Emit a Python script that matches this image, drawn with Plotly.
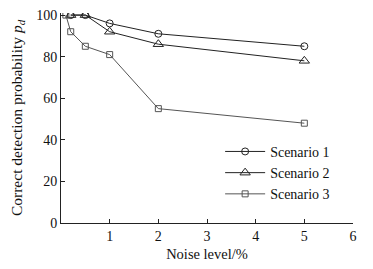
import plotly.graph_objects as go

x12 = [0.2, 0.5, 1, 2, 5]
s1 = [100, 100, 96, 91, 85]
s2 = [100, 100, 92, 86, 78]
x3 = [0.1, 0.2, 0.5, 1, 2, 5]
s3 = [100, 92, 85, 81, 55, 48]
xticks = [1, 2, 3, 4, 5, 6]
yticks = [0, 20, 40, 60, 80, 100]

fig = go.Figure()
fig.add_trace(go.Scatter(x=x12, y=s1, name="Scenario 1", mode="lines+markers",
                         line=dict(color="#222", width=1),
                         marker=dict(symbol="circle-open", size=7, color="#222", line=dict(width=1))))
fig.add_trace(go.Scatter(x=x12, y=s2, name="Scenario 2", mode="lines+markers",
                         line=dict(color="#222", width=1),
                         marker=dict(symbol="triangle-up-open", size=9, color="#222", line=dict(width=1))))
fig.add_trace(go.Scatter(x=x3, y=s3, name="Scenario 3", mode="lines+markers",
                         line=dict(color="#555", width=1),
                         marker=dict(symbol="square-open", size=6, color="#555", line=dict(width=1))))

serif = "Liberation Serif"
fig.update_layout(
    width=365, height=261,
    margin=dict(l=53, r=20, t=5, b=46),
    plot_bgcolor="white", paper_bgcolor="white",
    font=dict(family=serif, size=14, color="#111"),
    showlegend=True,
    legend=dict(x=0.545, y=0.415, xanchor="left", yanchor="top",
                bgcolor="rgba(0,0,0,0)", font=dict(family=serif, size=14, color="#111"),
                tracegroupgap=0, itemwidth=40),
    xaxis=dict(range=[0, 6], tickvals=xticks, ticks="inside", ticklen=4, tickcolor="#222",
               showline=True, linecolor="#222", linewidth=1, showgrid=False, zeroline=False,
               automargin=False, ticklabeloverflow="allow",
               tickfont=dict(family=serif, size=14, color="#111"),
               title=dict(text="Noise level/%", font=dict(family=serif, size=14.5, color="#111"), standoff=6)),
    yaxis=dict(range=[0, 101], tickvals=yticks, ticks="inside", ticklen=4, tickcolor="#222",
               showline=True, linecolor="#222", linewidth=1, showgrid=False, zeroline=False,
               automargin=False, ticklabeloverflow="allow",
               tickfont=dict(family=serif, size=14, color="#111"),
               title=dict(text="Correct detection probability <i>p</i><sub><i>d</i></sub>",
                          font=dict(family=serif, size=15.5, color="#111"), standoff=15)),
)
fig.write_html("out.html")
